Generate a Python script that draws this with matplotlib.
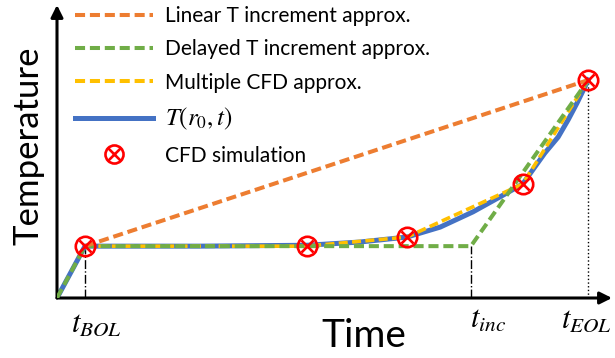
import matplotlib
matplotlib.use("Agg")
import matplotlib.pyplot as plt
from matplotlib.lines import Line2D

plt.rcParams['font.family'] = ['Lato', 'DejaVu Sans']
plt.rcParams['mathtext.fontset'] = 'stix'

# warna ala office
c_orange = '#ED7D31'
c_green = '#70AD47'
c_yellow = '#FFC000'
c_blue = '#4472C4'
c_red = '#FF0000'

# titik simulasi CFD (waktu, suhu)
t_cfd = [0.53, 4.73, 6.62, 8.81, 10.05]
T_cfd = [1.77, 1.77, 2.08, 3.89, 7.44]
t_bol, t_inc, t_eol = 0.53, 7.83, 10.05

# kurva suhu T(r0, t)
t_curve = [0.0, 0.53, 2.7, 4.73, 5.73, 6.62, 7.25, 7.87, 8.38, 8.81,
           9.0, 9.23, 9.48, 9.67, 9.84, 10.05]
T_curve = [0.0, 1.77, 1.77, 1.8, 1.91, 2.08, 2.42, 2.94, 3.45, 3.89,
           4.37, 4.95, 5.49, 6.08, 6.66, 7.44]

# pendekatan linear dan tertunda
t_lin = [t_bol, t_eol]
T_lin = [1.77, 7.44]
t_del = [0.0, t_bol, t_inc, t_eol]
T_del = [0.0, 1.77, 1.77, 7.44]
t_mul = t_cfd
T_mul = T_cfd

fig = plt.figure(figsize=(6.15, 3.58), dpi=100)
ax = fig.add_axes([57/615, 60/358, 555/615, 293/358])
ax.set_xlim(0, 10.5)
ax.set_ylim(0, 10)
for s in ax.spines.values():
    s.set_visible(False)
ax.set_xticks([])
ax.set_yticks([])

dash = (2.5, 1.2)
ax.plot(t_curve, T_curve, color=c_blue, lw=3.6, solid_joinstyle='round', zorder=2)
ax.plot(t_mul, T_mul, color=c_yellow, lw=2.6, ls=(0, dash), zorder=3)
ax.plot(t_del, T_del, color=c_green, lw=2.9, ls=(0, dash), zorder=4)
ax.plot(t_lin, T_lin, color=c_orange, lw=2.9, ls=(0, dash), zorder=4)

# garis bantu vertikal
ax.plot([t_bol, t_bol], [0, T_cfd[0]], color='black', lw=1, ls='-.', zorder=1)
ax.plot([t_inc, t_inc], [0, 1.77], color='black', lw=1, ls='-.', zorder=1)
ax.plot([t_eol, t_eol], [0, T_cfd[-1]], color='black', lw=1, ls=':', zorder=1)

# penanda CFD
ax.plot(t_cfd, T_cfd, ls='none', marker='o', ms=14, mfc='none', mec=c_red, mew=1.9, zorder=6)
ax.plot(t_cfd, T_cfd, ls='none', marker='x', ms=9, mec=c_red, mew=1.9, zorder=6)

# sumbu dengan panah
arr = dict(arrowstyle='-|>', lw=2.2, color='black', mutation_scale=18, shrinkA=0, shrinkB=0)
ax.annotate('', xy=(1.0, 0), xytext=(0, 0), xycoords='axes fraction', arrowprops=arr)
ax.annotate('', xy=(0, 1.0), xytext=(0, 0), xycoords='axes fraction', arrowprops=arr)

fig.text(96/615, 1 - 324/358, r'$t_{BOL}$', fontsize=22, ha='center', va='center')
fig.text(488/615, 1 - 320/358, r'$t_{inc}$', fontsize=22, ha='center', va='center')
fig.text(586/615, 1 - 320/358, r'$t_{EOL}$', fontsize=22, ha='center', va='center')
fig.text(364/615, 1 - 336/358, 'Time', fontsize=28, ha='center', va='center')
fig.text(29/615, 1 - 146/358, 'Temperature', fontsize=25, rotation=90, ha='center', va='center')

h_lin = Line2D([], [], color=c_orange, lw=2.9, ls=(0, dash))
h_del = Line2D([], [], color=c_green, lw=2.9, ls=(0, dash))
h_mul = Line2D([], [], color=c_yellow, lw=2.9, ls=(0, dash))
h_T = Line2D([], [], color=c_blue, lw=3.6)
h_c1 = Line2D([], [], ls='none', marker='o', ms=13, mfc='none', mec=c_red, mew=1.9)
h_c2 = Line2D([], [], ls='none', marker='x', ms=8, mec=c_red, mew=1.9)
leg = ax.legend([h_lin, h_del, h_mul, h_T, (h_c1, h_c2)],
                ['Linear T increment approx.', 'Delayed T increment approx.',
                 'Multiple CFD approx.', r'$T(\boldsymbol{r_0},t)$', 'CFD simulation'],
                loc='upper left', bbox_to_anchor=(75/615, 1 - 6/358),
                bbox_transform=fig.transFigure,
                frameon=False, fontsize=15, handlelength=3.75, handletextpad=0.55,
                labelspacing=0.64, borderpad=0, borderaxespad=0)
leg.get_texts()[3].set_fontsize(18)

fig.savefig('out.png', dpi=100)
